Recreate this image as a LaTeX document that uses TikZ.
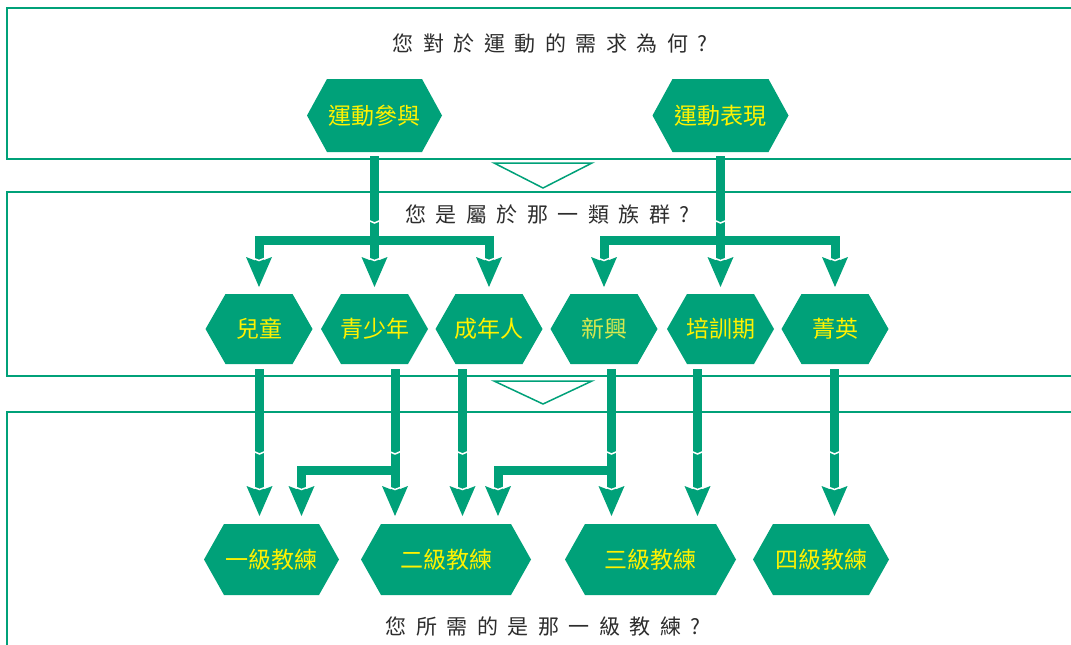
\documentclass[tikz,border=0pt]{standalone}
\usepackage{fontspec}
\setmainfont{Noto Sans CJK TC}
\usetikzlibrary{calc}
\definecolor{G}{RGB}{0,161,121}
\definecolor{Y}{RGB}{255,242,0}
\definecolor{Ytwo}{RGB}{214,232,80}
\definecolor{T}{RGB}{45,45,45}
\tikzset{
  panel/.style={draw=G, line width=2.2pt},
  tri/.style={draw=G, line width=1.5pt, fill=white, line join=miter},
  hextext/.style={font=\fontsize{23}{26}\selectfont, inner sep=0pt, outer sep=0pt},
  title/.style={text=T, font=\fontsize{21}{25}\selectfont, inner sep=0pt},
  conn/.style={draw=G, line width=9pt, shorten >=24pt},
  ahead/.pic={\fill[G] (-13,-30) -- (0,-25) -- (13,-30) -- (0,0) -- cycle;
    \draw[white, line width=1.5pt] (-5.5,-28.6) -- (0,-26.5) -- (5.5,-28.6);}
}
\newcommand\hexnode[7]{% name, x, y, w, h, colour, text
  \fill[G] (#2-#4/2,#3) -- (#2-#4/2+20,#3-#5/2) -- (#2+#4/2-20,#3-#5/2) -- (#2+#4/2,#3)
    -- (#2+#4/2-20,#3+#5/2) -- (#2-#4/2+20,#3+#5/2) -- cycle;
  \node[hextext, text=#6, minimum width=#4pt, minimum height=#5pt] (#1) at (#2,#3) {#7};}
\newcommand\notchmark[1]{\draw[white, line width=1.5pt] ($(#1)+(-5,-2.2)$) -- (#1) -- ($(#1)+(5,-2.2)$);}
\begin{document}
\begin{tikzpicture}[x=1pt, y=-1pt]
\useasboundingbox (0,0) rectangle (1071,645);
\clip (0,0) rectangle (1071,645);
\fill[white] (0,0) rectangle (1071,645);
% panels
\draw[panel] (7,8) rectangle (1090,159);
\draw[panel] (7,192) rectangle (1090,376);
\draw[panel] (7,412) rectangle (1090,670);
% between-panel triangles
\draw[tri] (494,163) -- (592,163) -- (543,188) -- cycle;
\draw[tri] (494,381) -- (592,381) -- (543,404) -- cycle;
% titles
\node[title] (q1) at (550,44) {\spaceskip=9.5pt\relax 您 對 於 運 動 的 需 求 為 何 ?};
\node[title] (q2) at (547.5,214) {\spaceskip=9.5pt\relax 您 是 屬 於 那 一 類 族 群 ?};
\node[title] (q3) at (543,627) {\spaceskip=9.5pt\relax 您 所 需 的 是 那 一 級 教 練 ?};
% hexagons
\hexnode{s1}{374.5}{115.5}{135}{73}{Y}{運動參與}
\hexnode{s2}{720.5}{115.5}{136}{73}{Y}{運動表現}
\hexnode{c1}{259}{329}{107}{70}{Y}{兒童}
\hexnode{c2}{374.5}{329}{107}{70}{Y}{青少年}
\hexnode{c3}{489}{329}{107}{70}{Y}{成年人}
\hexnode{c4}{604}{329}{107}{70}{Ytwo}{新興}
\hexnode{c5}{720.5}{329}{107}{70}{Y}{培訓期}
\hexnode{c6}{835}{329}{107}{70}{Y}{菁英}
\hexnode{t1}{271.5}{559.5}{135}{71}{Y}{一級教練}
\hexnode{t2}{446}{559.5}{170}{71}{Y}{二級教練}
\hexnode{t3}{650.5}{559.5}{171}{71}{Y}{三級教練}
\hexnode{t4}{821}{559.5}{136}{71}{Y}{四級教練}
% ---- top connectors
\foreach \c in {c1,c2,c3,c4,c5,c6} {\coordinate (tip\c) at ($(\c.north)+(0,-7)$);}
\coordinate (j1) at (374.5,240);
\coordinate (j2) at (720.5,240);
\draw[conn, shorten <=4pt] (s1.south) -- (tipc2); \pic at (tipc2) {ahead};
\draw[conn] (j1) -| (tipc1); \pic at (tipc1) {ahead};
\draw[conn] (j1) -| (tipc3); \pic at (tipc3) {ahead};
\draw[conn, shorten <=4pt] (s2.south) -- (tipc5); \pic at (tipc5) {ahead};
\draw[conn] (j2) -| (tipc4); \pic at (tipc4) {ahead};
\draw[conn] (j2) -| (tipc6); \pic at (tipc6) {ahead};
\coordinate (n1) at (374.5,223); \notchmark{n1}
\coordinate (n2) at (720.5,223); \notchmark{n2}
% ---- bottom connectors
\coordinate (b1) at ($(c1.south)+(0.5,0)$);
\coordinate (b2) at ($(c2.south)+(20.5,0)$);
\coordinate (b3) at ($(c3.south)+(-26.5,0)$);
\coordinate (b4) at ($(c4.south)+(7.5,0)$);
\coordinate (b5) at ($(c5.south)+(-23,0)$);
\coordinate (b6) at ($(c6.south)+(-0.5,0)$);
\coordinate (e1) at ($(b1 |- t1.north)+(0,-8)$);
\coordinate (e2) at ($(b2 |- t2.north)+(0,-8)$);
\coordinate (e3) at ($(b3 |- t2.north)+(0,-8)$);
\coordinate (e4) at ($(b4 |- t3.north)+(0,-8)$);
\coordinate (e5) at ($(b5 |- t3.north)+(0,-8)$);
\coordinate (e6) at ($(b6 |- t4.north)+(0,-8)$);
\coordinate (f2) at ($(t1.north)+(30,-8)$);
\coordinate (f4) at ($(t2.north)+(52,-8)$);
\foreach \i in {1,...,6} {
  \draw[conn, shorten <=5pt] (b\i) -- (e\i);
  \pic at (e\i) {ahead};
  \coordinate (m\i) at (b\i |- 0,454);
  \notchmark{m\i}
}
\draw[conn] (b2 |- 0,470.5) -| (f2); \pic at (f2) {ahead};
\draw[conn] (b4 |- 0,470.5) -| (f4); \pic at (f4) {ahead};
\end{tikzpicture}
\end{document}
